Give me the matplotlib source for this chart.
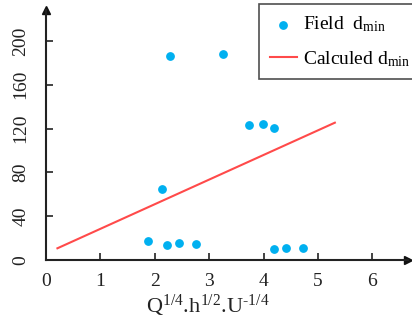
import matplotlib
matplotlib.use("Agg")
import matplotlib.pyplot as plt

plt.rcParams['font.family'] = ['Liberation Serif', 'DejaVu Serif']
plt.rcParams['mathtext.fontset'] = 'custom'
plt.rcParams['mathtext.rm'] = 'Liberation Serif'
plt.rcParams['mathtext.it'] = 'Liberation Serif:italic'

# Field data (x, d_min)
field_x = [1.87, 2.13, 2.22, 2.28, 2.44, 2.76, 3.25, 3.74, 3.98, 4.20, 4.20, 4.42, 4.73]
field_y = [17.4, 64.8, 13.4, 186.0, 15.3, 14.9, 188.0, 123.0, 124.5, 120.5, 9.8, 11.2, 11.0]
# Calculated line end points
calc_x = [0.21, 5.31]
calc_y = [10.7, 125.4]

xticks = [0, 1, 2, 3, 4, 5, 6]
yticks = [0, 40, 80, 120, 160, 200]

W, H = 412, 321
fig = plt.figure(figsize=(W / 100, H / 100), dpi=100)
left, bottom, right, top = 46, 61, 408, 311
ax = fig.add_axes([left / W, bottom / H, (right - left) / W, (top - bottom) / H])

ax.scatter(field_x, field_y, s=28, color='#00B0F0', zorder=3, label=r'Field  $\mathrm{d_{min}}$')
ax.plot(calc_x, calc_y, color='#FF4A4A', lw=1.5, label=r'Calculed $\mathrm{d_{min}}$')

ax.set_xlim(0, (right - left) / 54.4)
ax.set_ylim(0, (top - bottom) / 1.095)

for s in ['top', 'right']:
    ax.spines[s].set_visible(False)
for s in ['left', 'bottom']:
    ax.spines[s].set_color('#222222')
    ax.spines[s].set_linewidth(1.5)

ax.plot(1, 0, '>', color='#111111', ms=6, transform=ax.get_yaxis_transform(), clip_on=False)
ax.plot(0, 1, '^', color='#111111', ms=6, transform=ax.get_xaxis_transform(), clip_on=False)

ax.set_xticks(xticks)
ax.set_yticks(yticks)
ax.tick_params(axis='both', direction='in', length=5, width=1.2, color='#222222',
               labelsize=14, labelcolor='#222222')
ax.tick_params(axis='x', pad=9)
ax.tick_params(axis='y', pad=12)
for lab in ax.get_yticklabels():
    lab.set_rotation(90)
    lab.set_va('center')

ax.set_xlabel('$\\mathrm{Q^{1/4}{.}\\!h^{1/2}{.}\\!U^{\u20101/4}}$', fontsize=16,
              color='#222222')
ax.xaxis.set_label_coords((208 - left) / (right - left), -(319 - 260) / (top - bottom),
                          transform=ax.transAxes)
ax.xaxis.label.set_va('bottom')

leg = fig.legend(loc='upper left', bbox_to_anchor=(259 / W, 1 - 4 / H), fontsize=14,
                 frameon=True, fancybox=False, edgecolor='#222222', handlelength=1.4,
                 handletextpad=0.3, labelspacing=0.75, borderpad=0.55, borderaxespad=0)
leg.get_frame().set_linewidth(1.2)

fig.savefig('out.png', dpi=100)
